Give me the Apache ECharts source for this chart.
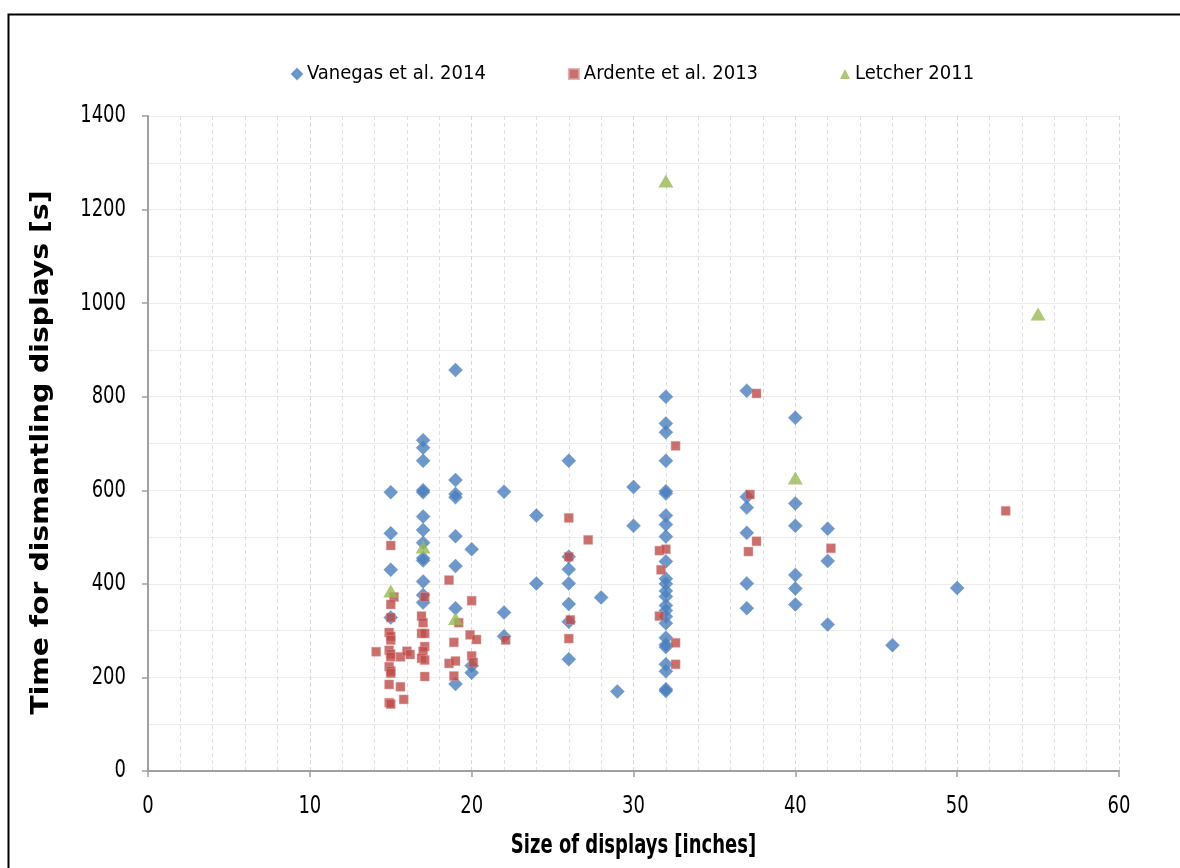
<!DOCTYPE html>
<html>
<head>
<meta charset="utf-8">
<script src="https://cdn.jsdelivr.net/npm/echarts@6/dist/echarts.min.js"></script>
<style>html,body{margin:0;padding:0;background:#fff;}#c{width:1180px;height:868px;}</style>
</head>
<body>
<div id="c"></div>
<script>
// ---- data (size in inches, time in seconds) ----
const seriesNames = ['Vanegas et al. 2014', 'Ardente et al. 2013', 'Letcher 2011'];
const xTitle = 'Size of displays [inches]';
const yTitle = 'Time for dismantling displays [s]';
const xTicks = [0, 10, 20, 30, 40, 50, 60];
const yTicks = [0, 200, 400, 600, 800, 1000, 1200, 1400];

const vanegas = [
  [15,596],[15,508],[15,430],[15,328],
  [17,707],[17,691],[17,663],[17,600],[17,596],[17,544],[17,515],[17,488],[17,455],[17,450],[17,405],[17,376],[17,360],
  [19,857],[19,622],[19,592],[19,585],[19,502],[19,438],[19,348],[19,186],
  [20,474],[20,225],[20,210],
  [22,597],[22,339],[22,288],
  [24,546],[24,401],
  [26,663],[26,458],[26,431],[26,401],[26,357],[26,319],[26,239],
  [28,371],[29,170],[30,607],[30,524],
  [32,800],[32,743],[32,724],[32,663],[32,598],[32,593],[32,546],[32,527],[32,501],[32,448],[32,411],[32,400],[32,385],
  [32,373],[32,354],[32,343],[32,330],[32,316],[32,285],[32,270],[32,265],[32,228],[32,213],[32,175],[32,171],
  [37,813],[37,586],[37,563],[37,509],[37,401],[37,348],
  [40,755],[40,572],[40,524],[40,419],[40,390],[40,356],
  [42,518],[42,449],[42,313],
  [46,269],[50,391]
];
const ardente = [
  [14.1,255],[15,482],[15.2,372],[15,356],[15,328],[14.9,296],[15,288],[15,280],[14.9,258],[15,250],[15,244],
  [14.9,223],[15,214],[15,209],[14.9,185],[14.9,146],[15,143],[15.6,244],[15.6,180],[15.8,153],[16,256],[16.2,249],
  [17.1,372],[16.9,331],[17,317],[16.9,294],[17.1,294],[17.1,266],[17,256],[16.9,241],[17.1,237],[17.1,202],
  [18.6,408],[20,364],[19.2,317],[19.9,291],[20.3,281],[18.9,275],[20,246],[20.1,232],[18.6,230],[19,235],[18.9,203],
  [22.1,280],[26,541],[27.2,494],[26,458],[26.1,323],[26,283],
  [32.6,695],[31.6,471],[32,474],[31.7,430],[31.6,331],[32.6,274],[32.6,228],
  [37.6,807],[37.2,591],[37.6,491],[37.1,469],[42.2,476],[53,556]
];
const letcher = [[15,385],[17,479],[19,326],[32,1261],[40,626],[55,977]];

const FONT = '"DejaVu Sans Condensed", "Liberation Sans Narrow", sans-serif';
const chart = echarts.init(document.getElementById('c'), null, {renderer: 'canvas'});
chart.setOption({
  backgroundColor: '#fff',
  animation: false,
  textStyle: {fontFamily: FONT},
  legend: {
    left: 286, top: 59, itemGap: 82, itemWidth: 10, itemHeight: 10,
    textStyle: {fontFamily: FONT, fontSize: 20, color: '#000'},
    data: [
      {name: seriesNames[0], icon: 'diamond', itemStyle: {color: '#4A7EBB'}},
      {name: seriesNames[1], icon: 'rect', itemStyle: {color: '#BE4B48'}},
      {name: seriesNames[2], icon: 'triangle', itemStyle: {color: '#98B954'}}
    ]
  },
  grid: {left: 148, right: 61, top: 116, bottom: 97, containLabel: false},
  xAxis: {
    type: 'value', min: 0, max: 60, interval: 10,
    axisLine: {show: true, onZero: false, lineStyle: {color: '#a0a0a0', width: 2}},
    axisTick: {show: true, length: 6, lineStyle: {color: '#a0a0a0', width: 1.5}},
    axisLabel: {show: false},
    splitLine: {show: true, lineStyle: {color: '#d8d8d8', type: [4, 3], width: 1}},
    minorTick: {show: false, splitNumber: 5},
    minorSplitLine: {show: true, lineStyle: {color: '#e0e0e0', type: [4, 3], width: 1}}
  },
  yAxis: {
    type: 'value', min: 0, max: 1400, interval: 200,
    axisLine: {show: true, lineStyle: {color: '#a0a0a0', width: 2}},
    axisTick: {show: true, length: 6, lineStyle: {color: '#a0a0a0', width: 1.5}},
    axisLabel: {show: false},
    splitLine: {show: true, lineStyle: {color: '#ececec', width: 1}},
    minorTick: {show: false, splitNumber: 2},
    minorSplitLine: {show: true, lineStyle: {color: '#ececec', width: 1}}
  },
  series: [
    {name: seriesNames[0], type: 'scatter', data: vanegas, symbol: 'diamond', symbolSize: 14,
     itemStyle: {color: '#4A7EBB', borderColor: '#5A8AC6', borderWidth: 0.5}, z: 3},
    {name: seriesNames[1], type: 'scatter', data: ardente, symbol: 'rect', symbolSize: 9,
     itemStyle: {color: '#BE4B48', borderColor: '#D9A0A0', borderWidth: 0.6}, z: 4},
    {name: seriesNames[2], type: 'scatter', data: letcher, symbol: 'triangle', symbolSize: [15, 13],
     itemStyle: {color: '#98B954'}, z: 5}
  ]
});

// Tall, narrow text (the reference uses a condensed, vertically stretched face)
const SY = 1.23;
const graphics = [{
  type: 'rect', left: 6, top: 12, shape: {width: 1250, height: 900},
  style: {fill: 'none', stroke: '#000', lineWidth: 2}, z: -1
}];
yTicks.forEach(v => {
  const p = chart.convertToPixel({gridIndex: 0}, [0, v]);
  graphics.push({type: 'text', x: p[0] - 22, y: p[1], scaleY: SY,
    style: {text: String(v), font: '20px ' + FONT, fill: '#000', align: 'right', verticalAlign: 'middle'}});
});
xTicks.forEach(v => {
  const p = chart.convertToPixel({gridIndex: 0}, [v, 0]);
  graphics.push({type: 'text', x: p[0], y: p[1] + 36, scaleY: SY,
    style: {text: String(v), font: '20px ' + FONT, fill: '#000', align: 'center', verticalAlign: 'middle'}});
});
const g0 = chart.convertToPixel({gridIndex: 0}, [0, 0]);
const g1 = chart.convertToPixel({gridIndex: 0}, [60, 1400]);
graphics.push({type: 'text', x: (g0[0] + g1[0]) / 2, y: g0[1] + 75, scaleY: 1.3,
  style: {text: xTitle, font: 'bold 20px ' + FONT, fill: '#000', align: 'center', verticalAlign: 'middle'}});
graphics.push({type: 'text', x: 42, y: (g0[1] + g1[1]) / 2 + 9, rotation: Math.PI / 2, scaleX: 1.31,
  style: {text: yTitle, font: 'bold 24px ' + FONT, fill: '#000', align: 'center', verticalAlign: 'middle'}});
chart.setOption({graphic: graphics});
</script>
</body>
</html>
